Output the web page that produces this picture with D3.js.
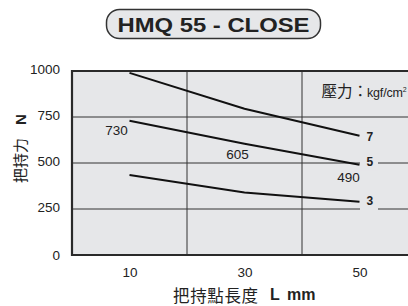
<!DOCTYPE html>
<html lang="zh-Hant">
<head>
    <meta charset="utf-8" />
    <title>HMQ 55 - CLOSE</title>
    <style>
        body { margin: 0; background: white; }
        svg text { font-family: 'Liberation Sans', Arial, sans-serif; fill: #222; }
        svg .cjk { font-family: 'Noto Sans CJK TC', 'Noto Sans CJK SC', sans-serif; }
        .grid line { stroke: #333; stroke-width: 1px; }
        path.curve { fill: none; stroke: #111; stroke-width: 2px; }
    </style>
    <script src="https://d3js.org/d3.v7.min.js"></script>
</head>
<body>
    <svg id="vis" width="408" height="306"></svg>
    <script>
        // data
        var lengths = [10, 30, 50];           // L mm
        var pressures = ["7", "5", "3"];      // kgf/cm2
        var force7 = [990, 795, 648];
        var force5 = [730, 605, 490];
        var force3 = [435, 340, 290];
        var yTicks = [0, 250, 500, 750, 1000];
        var notes = [{ x: 10, v: 730, t: "730" }, { x: 30, v: 605, t: "605" }, { x: 50, v: 490, t: "490" }];

        var series = [force7, force5, force3];
        var bg = "#e6e7e9";

        var svg = d3.select("#vis");
        var plot = { left: 72, top: 71, bottom: 255, right: 408 };

        var x = d3.scaleLinear().domain([0, 60]).range([plot.left, 417]);
        var y = d3.scaleLinear().domain([0, 1000]).range([plot.bottom, plot.top]);

        // title pill
        svg.append("rect").attr("x", 106.5).attr("y", 9.5).attr("width", 214).attr("height", 29)
            .attr("rx", 13).attr("fill", bg).attr("stroke", "#333").attr("stroke-width", 1.5);
        svg.append("text").attr("x", 213.5).attr("y", 31.5).attr("text-anchor", "middle")
            .attr("font-size", 21).attr("font-weight", "bold").attr("textLength", 192)
            .attr("lengthAdjust", "spacingAndGlyphs").text("HMQ 55 - CLOSE");

        // plot background
        svg.append("rect").attr("x", plot.left).attr("y", plot.top)
            .attr("width", plot.right - plot.left).attr("height", plot.bottom - plot.top).attr("fill", bg);

        var grid = svg.append("g").attr("class", "grid");
        grid.selectAll("line.h").data([250, 500, 750]).enter().append("line").attr("class", "h")
            .attr("x1", plot.left).attr("x2", plot.right).attr("y1", d => y(d)).attr("y2", d => y(d));
        grid.selectAll("line.v").data([20, 40]).enter().append("line").attr("class", "v")
            .attr("x1", d => x(d)).attr("x2", d => x(d)).attr("y1", plot.top).attr("y2", plot.bottom);

        // frame: top, left, bottom
        svg.append("path").attr("d", "M" + plot.right + "," + plot.top + "H" + plot.left + "V" + plot.bottom + "H" + plot.right)
            .attr("fill", "none").attr("stroke", "#2a2a2a").attr("stroke-width", 2.2);

        // curves
        var line = d3.line().x((d, i) => x(lengths[i])).y(d => y(d));
        svg.selectAll("path.curve").data(series).enter().append("path").attr("class", "curve").attr("d", line);

        // end labels with masking box
        var labelShift = [1, -3, -0.5];
        var ends = svg.selectAll("g.end").data(series).enter().append("g").attr("class", "end")
            .attr("transform", (d, i) => "translate(" + (x(50) + 7) + "," + (y(d[2]) + labelShift[i]) + ")");
        ends.append("rect").attr("x", -6.5).attr("y", -9).attr("width", 18).attr("height", 18).attr("fill", bg);
        ends.append("text").attr("dy", "0.36em").attr("font-size", 12).attr("font-weight", "bold")
            .text((d, i) => pressures[i]);

        // value notes
        var noteShift = [[-13, 10], [-7, 11], [-11, 12]];
        svg.selectAll("text.note").data(notes).enter().append("text").attr("class", "note")
            .attr("x", (d, i) => x(d.x) + noteShift[i][0])
            .attr("y", (d, i) => y(d.v) + noteShift[i][1])
            .attr("dy", "0.35em").attr("text-anchor", "middle").attr("font-size", 13.5).text(d => d.t);

        // pressure legend
        svg.append("text").attr("class", "cjk").attr("x", 321.5).attr("y", 96.5).attr("font-size", 15.5).text("壓力：");
        var unit = svg.append("text").attr("x", 367).attr("y", 96.5);
        unit.append("tspan").attr("font-size", 12.5).attr("textLength", 36).text("kgf/cm");
        unit.append("tspan").attr("font-size", 7).attr("dy", -5).text("2");

        // axes
        var yAxis = svg.append("g").attr("transform", "translate(" + plot.left + ",-2)")
            .call(d3.axisLeft(y).tickValues(yTicks).tickFormat(d3.format("d")).tickSize(0).tickPadding(12));
        yAxis.select(".domain").remove();
        yAxis.selectAll("text").attr("font-size", 13.5);
        yAxis.selectAll(".tick").filter(d => d == 0).attr("transform", "translate(0," + (y(0) + 3) + ")");

        var xAxis = svg.append("g").attr("transform", "translate(0," + plot.bottom + ")")
            .call(d3.axisBottom(x).tickValues(lengths).tickSize(0).tickPadding(12));
        xAxis.select(".domain").remove();
        xAxis.selectAll("text").attr("font-size", 13.5);

        // axis titles
        var yt = svg.append("text").attr("transform", "translate(26,183) rotate(-90)");
        yt.append("tspan").attr("class", "cjk").attr("font-size", 15).text("把持力");
        yt.append("tspan").attr("dx", 13).attr("font-size", 15).attr("font-weight", "bold").text("N");

        svg.append("text").attr("class", "cjk").attr("x", 173).attr("y", 301.5).attr("font-size", 16.5)
            .attr("textLength", 85).text("把持點長度");
        svg.append("text").attr("x", 270).attr("y", 300).attr("font-size", 16).attr("font-weight", "bold").text("L");
        svg.append("text").attr("x", 287).attr("y", 300).attr("font-size", 16).attr("font-weight", "bold").text("mm");
    </script>
</body>
</html>
